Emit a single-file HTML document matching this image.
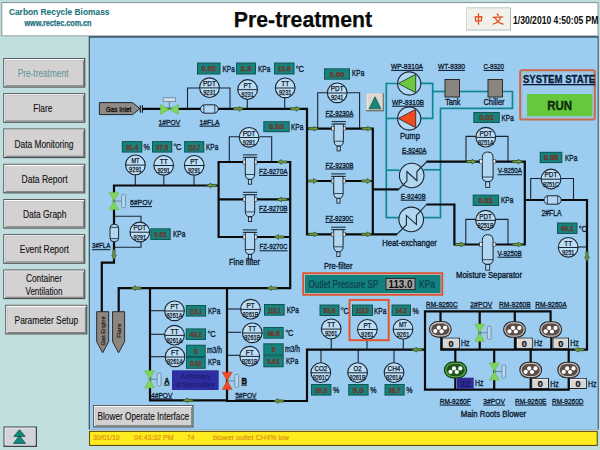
<!DOCTYPE html>
<html><head><meta charset="utf-8"><title>Pre-treatment</title>
<style>html,body{margin:0;padding:0;background:#c0dede;overflow:hidden}svg{display:block}text{font-family:"Liberation Sans",sans-serif}</style>
</head><body>
<svg width="600" height="450" viewBox="0 0 600 450" font-family="Liberation Sans, sans-serif">
<rect x="0" y="0" width="600" height="450" fill="#c0dede"/>
<rect x="1.3" y="2.1" width="597.2" height="34.2" fill="#879595"/>
<rect x="2.3" y="3.1" width="595.2" height="32.3" fill="#ffffff"/>
<text x="8.9" y="14.8" font-size="8.4" fill="#1b777c" font-weight="bold" textLength="100.6" lengthAdjust="spacing" stroke="#1b777c" stroke-width="0.1">Carbon Recycle Biomass</text>
<text x="24.5" y="26.4" font-size="8.8" fill="#1b7080" font-weight="bold" textLength="67" lengthAdjust="spacingAndGlyphs" stroke="#1b7080" stroke-width="0.25">www.rectec.com.cn</text>
<text x="303" y="26.9" font-size="21.6" fill="#0a0a0a" font-weight="bold" text-anchor="middle" textLength="138.4" lengthAdjust="spacingAndGlyphs" stroke="#0a0a0a" stroke-width="0.25">Pre-treatment</text>
<rect x="466" y="7.5" width="45" height="23" fill="#a9b8b2"/>
<rect x="466" y="7.5" width="44" height="22" fill="#cfdad6"/>
<rect x="467" y="8.5" width="43" height="21" fill="#f1f0ea"/>
<g fill="none" stroke="#e2491c" stroke-width="1.3" stroke-linecap="round" stroke-linejoin="round"><path d="M475.2,16.9 L481.8,16.6 L481.2,20.9 L475.8,21.1 Z"/><path d="M478.5,13.9 L478.5,24.2"/><path d="M497.3,14 L498.3,15.4"/><path d="M493,17.3 L502.6,16.9"/><path d="M500.6,17.6 C499.6,20.6 496.6,23 493.2,24"/><path d="M495.4,18.2 C496.8,21 499.6,23.2 502.8,24"/></g>
<text x="513" y="23.6" font-size="10.4" fill="#0a0a0a" font-weight="bold" textLength="85.5" lengthAdjust="spacingAndGlyphs">1/30/2010 4:50:05 PM</text>
<rect x="3.3" y="58.0" width="82" height="29.6" fill="#4a4c4c"/>
<rect x="4.2" y="58.9" width="79.9" height="27.5" fill="#fdfdfd"/>
<rect x="5.5" y="60.2" width="78.6" height="26.200000000000003" fill="#848686"/>
<rect x="5.5" y="60.2" width="77.4" height="25.0" fill="#d3d1d1"/>
<text x="43.0" y="77.0" font-size="11" fill="#6c98a0" text-anchor="middle" textLength="50.6" lengthAdjust="spacingAndGlyphs" stroke="#6c98a0" stroke-width="0.15">Pre-treatment</text>
<rect x="3.3" y="93.2" width="82" height="29.6" fill="#4a4c4c"/>
<rect x="4.2" y="94.10000000000001" width="79.9" height="27.5" fill="#fdfdfd"/>
<rect x="5.5" y="95.4" width="78.6" height="26.200000000000003" fill="#848686"/>
<rect x="5.5" y="95.4" width="77.4" height="25.0" fill="#d3d1d1"/>
<text x="42.8" y="112.2" font-size="11" fill="#151515" text-anchor="middle" textLength="19" lengthAdjust="spacingAndGlyphs" stroke="#151515" stroke-width="0.15">Flare</text>
<rect x="3.3" y="128.5" width="82" height="29.6" fill="#4a4c4c"/>
<rect x="4.2" y="129.4" width="79.9" height="27.5" fill="#fdfdfd"/>
<rect x="5.5" y="130.7" width="78.6" height="26.200000000000003" fill="#848686"/>
<rect x="5.5" y="130.7" width="77.4" height="25.0" fill="#d3d1d1"/>
<text x="44.0" y="147.5" font-size="11" fill="#151515" text-anchor="middle" textLength="59" lengthAdjust="spacingAndGlyphs" stroke="#151515" stroke-width="0.15">Data Monitoring</text>
<rect x="3.3" y="163.8" width="82" height="29.6" fill="#4a4c4c"/>
<rect x="4.2" y="164.70000000000002" width="79.9" height="27.5" fill="#fdfdfd"/>
<rect x="5.5" y="166.0" width="78.6" height="26.200000000000003" fill="#848686"/>
<rect x="5.5" y="166.0" width="77.4" height="25.0" fill="#d3d1d1"/>
<text x="44.5" y="182.8" font-size="11" fill="#151515" text-anchor="middle" textLength="46" lengthAdjust="spacingAndGlyphs" stroke="#151515" stroke-width="0.15">Data Report</text>
<rect x="3.3" y="199.0" width="82" height="29.6" fill="#4a4c4c"/>
<rect x="4.2" y="199.9" width="79.9" height="27.5" fill="#fdfdfd"/>
<rect x="5.5" y="201.2" width="78.6" height="26.200000000000003" fill="#848686"/>
<rect x="5.5" y="201.2" width="77.4" height="25.0" fill="#d3d1d1"/>
<text x="44.699999999999996" y="218.0" font-size="11" fill="#151515" text-anchor="middle" textLength="43.5" lengthAdjust="spacingAndGlyphs" stroke="#151515" stroke-width="0.15">Data Graph</text>
<rect x="3.3" y="234.2" width="82" height="29.6" fill="#4a4c4c"/>
<rect x="4.2" y="235.1" width="79.9" height="27.5" fill="#fdfdfd"/>
<rect x="5.5" y="236.39999999999998" width="78.6" height="26.200000000000003" fill="#848686"/>
<rect x="5.5" y="236.39999999999998" width="77.4" height="25.0" fill="#d3d1d1"/>
<text x="44.3" y="253.2" font-size="11" fill="#151515" text-anchor="middle" textLength="49" lengthAdjust="spacingAndGlyphs" stroke="#151515" stroke-width="0.15">Event Report</text>
<rect x="3.3" y="269.5" width="82" height="29.6" fill="#4a4c4c"/>
<rect x="4.2" y="270.4" width="79.9" height="27.5" fill="#fdfdfd"/>
<rect x="5.5" y="271.7" width="78.6" height="26.200000000000003" fill="#848686"/>
<rect x="5.5" y="271.7" width="77.4" height="25.0" fill="#d3d1d1"/>
<text x="44.0" y="282.1" font-size="11" fill="#151515" text-anchor="middle" textLength="36" lengthAdjust="spacingAndGlyphs" stroke="#151515" stroke-width="0.15">Container</text>
<text x="44.0" y="294.9" font-size="11" fill="#151515" text-anchor="middle" textLength="37" lengthAdjust="spacingAndGlyphs" stroke="#151515" stroke-width="0.15">Ventilation</text>
<rect x="5.3" y="304.8" width="82" height="29.6" fill="#4a4c4c"/>
<rect x="6.2" y="305.7" width="79.9" height="27.5" fill="#fdfdfd"/>
<rect x="7.5" y="307.0" width="78.6" height="26.200000000000003" fill="#848686"/>
<rect x="7.5" y="307.0" width="77.4" height="25.0" fill="#d3d1d1"/>
<text x="46.3" y="323.8" font-size="11" fill="#151515" text-anchor="middle" textLength="63.5" lengthAdjust="spacingAndGlyphs" stroke="#151515" stroke-width="0.15">Parameter Setup</text>
<rect x="3.5" y="426.5" width="33.5" height="20.5" fill="#3c4444"/>
<rect x="4.5" y="427.5" width="31" height="18" fill="#f4f4f8"/>
<rect x="5.5" y="428.5" width="30" height="17" fill="#d2d2da"/>
<path d="M19.5,429.6 L25.2,436.4 L13.8,436.4 Z M19.5,435.6 L25.6,443.4 L13.4,443.4 Z" fill="#128a7c" stroke="#0b4a44" stroke-width="0.7"/>
<rect x="88.7" y="36.2" width="510" height="394.4" fill="#e6f1f4"/>
<rect x="88.7" y="36.2" width="510" height="393.4" fill="#2c4052"/>
<rect x="89.8" y="37.6" width="507.9" height="392.1" fill="#9ccdf0"/>
<rect x="89" y="430.8" width="508.8" height="15.2" fill="#5a4c14"/>
<rect x="90" y="431.9" width="506.7" height="13" fill="#ffec1e"/>
<text x="93" y="439.8" font-size="8" fill="#d98c12" textLength="26.5" lengthAdjust="spacingAndGlyphs" stroke="#d98c12" stroke-width="0.15">30/01/10</text>
<text x="134" y="439.8" font-size="8" fill="#d98c12" textLength="39.5" lengthAdjust="spacingAndGlyphs" stroke="#d98c12" stroke-width="0.15">04:43:32 PM</text>
<text x="187" y="439.8" font-size="8" fill="#d98c12" textLength="7.5" lengthAdjust="spacingAndGlyphs" stroke="#d98c12" stroke-width="0.15">74</text>
<text x="213" y="439.8" font-size="8" fill="#d98c12" textLength="76" lengthAdjust="spacingAndGlyphs" stroke="#d98c12" stroke-width="0.15">blower outlet CH4% low</text>
<polyline points="187.5,109 187.5,88 199.5,88" fill="none" stroke="#1a2430" stroke-width="1.1" stroke-linejoin="miter"/>
<polyline points="219.5,88 230,88 230,109" fill="none" stroke="#1a2430" stroke-width="1.1" stroke-linejoin="miter"/>
<polyline points="247.3,99 247.3,109" fill="none" stroke="#1a2430" stroke-width="1.1" stroke-linejoin="miter"/>
<polyline points="284.7,98 284.7,109" fill="none" stroke="#1a2430" stroke-width="1.1" stroke-linejoin="miter"/>
<polyline points="229.3,162 229.3,136.8 239.5,136.8" fill="none" stroke="#1a2430" stroke-width="1.1" stroke-linejoin="miter"/>
<polyline points="259.5,136.8 271.7,136.8 271.7,162" fill="none" stroke="#1a2430" stroke-width="1.1" stroke-linejoin="miter"/>
<polyline points="135.3,175 135.3,185.5" fill="none" stroke="#1a2430" stroke-width="1.1" stroke-linejoin="miter"/>
<polyline points="163.8,175 163.8,185.5" fill="none" stroke="#1a2430" stroke-width="1.1" stroke-linejoin="miter"/>
<polyline points="194,175 194,185.5" fill="none" stroke="#1a2430" stroke-width="1.1" stroke-linejoin="miter"/>
<polyline points="114,216.3 141,216.3 141,222" fill="none" stroke="#1a2430" stroke-width="1.1" stroke-linejoin="miter"/>
<polyline points="141,242 141,247.3 114,247.3" fill="none" stroke="#1a2430" stroke-width="1.1" stroke-linejoin="miter"/>
<polyline points="317.7,129 317.7,92.7 327.5,92.7" fill="none" stroke="#1a2430" stroke-width="1.1" stroke-linejoin="miter"/>
<polyline points="347,92.7 359.6,92.7 359.6,129" fill="none" stroke="#1a2430" stroke-width="1.1" stroke-linejoin="miter"/>
<polyline points="466,161.3 466,136.4 476,136.4" fill="none" stroke="#1a2430" stroke-width="1.1" stroke-linejoin="miter"/>
<polyline points="496,136.4 508,136.4 508,161.3" fill="none" stroke="#1a2430" stroke-width="1.1" stroke-linejoin="miter"/>
<polyline points="465.8,244.5 465.8,219.4 476,219.4" fill="none" stroke="#1a2430" stroke-width="1.1" stroke-linejoin="miter"/>
<polyline points="495,219.4 508,219.4 508,244.5" fill="none" stroke="#1a2430" stroke-width="1.1" stroke-linejoin="miter"/>
<polyline points="530.7,200 530.7,178.5 541,178.5" fill="none" stroke="#1a2430" stroke-width="1.1" stroke-linejoin="miter"/>
<polyline points="561,178.5 573.5,178.5 573.5,200" fill="none" stroke="#1a2430" stroke-width="1.1" stroke-linejoin="miter"/>
<polyline points="578,247 587,247" fill="none" stroke="#1a2430" stroke-width="1.1" stroke-linejoin="miter"/>
<polyline points="150,310.7 165,310.7" fill="none" stroke="#1a2430" stroke-width="1.1" stroke-linejoin="miter"/>
<polyline points="150,334.3 165,334.3" fill="none" stroke="#1a2430" stroke-width="1.1" stroke-linejoin="miter"/>
<polyline points="150,356.7 165,356.7" fill="none" stroke="#1a2430" stroke-width="1.1" stroke-linejoin="miter"/>
<polyline points="227,309 241,309" fill="none" stroke="#1a2430" stroke-width="1.1" stroke-linejoin="miter"/>
<polyline points="227,332.3 241,332.3" fill="none" stroke="#1a2430" stroke-width="1.1" stroke-linejoin="miter"/>
<polyline points="227,355.3 241,355.3" fill="none" stroke="#1a2430" stroke-width="1.1" stroke-linejoin="miter"/>
<polyline points="331.3,339 331.3,350" fill="none" stroke="#1a2430" stroke-width="1.1" stroke-linejoin="miter"/>
<polyline points="367,339 367,350" fill="none" stroke="#1a2430" stroke-width="1.1" stroke-linejoin="miter"/>
<polyline points="403.3,339 403.3,350" fill="none" stroke="#1a2430" stroke-width="1.1" stroke-linejoin="miter"/>
<polyline points="321,350 321,363" fill="none" stroke="#1a2430" stroke-width="1.1" stroke-linejoin="miter"/>
<polyline points="358.2,350 358.2,363" fill="none" stroke="#1a2430" stroke-width="1.1" stroke-linejoin="miter"/>
<polyline points="394,350 394,363" fill="none" stroke="#1a2430" stroke-width="1.1" stroke-linejoin="miter"/>
<polyline points="397.5,83.5 386.3,83.5 386.3,217.7 399,217.7" fill="none" stroke="#0f8794" stroke-width="1.7" stroke-linejoin="miter"/>
<polyline points="397.5,118.4 386.3,118.4" fill="none" stroke="#0f8794" stroke-width="1.7" stroke-linejoin="miter"/>
<polyline points="421,83.4 432.7,83.4 432.7,118.4 421,118.4" fill="none" stroke="#0f8794" stroke-width="1.7" stroke-linejoin="miter"/>
<polyline points="432.7,91.5 445,91.5" fill="none" stroke="#0f8794" stroke-width="1.7" stroke-linejoin="miter"/>
<polyline points="459.5,91.5 488,91.5" fill="none" stroke="#0f8794" stroke-width="1.7" stroke-linejoin="miter"/>
<polyline points="502.5,91.5 512.5,91.5 512.5,108.3 440.5,108.3 440.5,217.7 423.5,217.7" fill="none" stroke="#0f8794" stroke-width="1.7" stroke-linejoin="miter"/>
<polyline points="386.3,170.2 399.5,170.2" fill="none" stroke="#0f8794" stroke-width="1.7" stroke-linejoin="miter"/>
<polyline points="423.5,169.8 440.5,169.8" fill="none" stroke="#0f8794" stroke-width="1.7" stroke-linejoin="miter"/>
<polyline points="143,108.8 307.0,108.8 307.0,234.3 397,234.3" fill="none" stroke="#0a0a0a" stroke-width="2.2" stroke-linejoin="miter"/>
<polyline points="307.0,128.7 372.8,128.7 372.8,234.3" fill="none" stroke="#0a0a0a" stroke-width="2.2" stroke-linejoin="miter"/>
<line x1="307.0" y1="181" x2="372.8" y2="181" stroke="#0a0a0a" stroke-width="2.2"/>
<line x1="372.8" y1="189.4" x2="398.7" y2="189.4" stroke="#0a0a0a" stroke-width="2.2"/>
<polyline points="426.3,161.7 524.8,161.7 524.8,244.5 454.4,244.5 454.4,204.5 426.3,204.5" fill="none" stroke="#0a0a0a" stroke-width="2.2" stroke-linejoin="miter"/>
<polyline points="524.8,200 587,200 587,349.7 440.3,349.7" fill="none" stroke="#0a0a0a" stroke-width="2.2" stroke-linejoin="miter"/>
<polyline points="114,224 114,185.5 218.5,185.5" fill="none" stroke="#0a0a0a" stroke-width="2.2" stroke-linejoin="miter"/>
<polyline points="290.5,162 218.6,162 218.6,237 290.5,237" fill="none" stroke="#0a0a0a" stroke-width="2.2" stroke-linejoin="miter"/>
<line x1="218.6" y1="199.4" x2="290.5" y2="199.4" stroke="#0a0a0a" stroke-width="2.2"/>
<polyline points="290.2,160.9 290.2,288.1 118.7,288.1 118.7,312" fill="none" stroke="#0a0a0a" stroke-width="2.2" stroke-linejoin="miter"/>
<polyline points="114,241 114,262.6 101.8,262.6 101.8,312" fill="none" stroke="#0a0a0a" stroke-width="2.2" stroke-linejoin="miter"/>
<polyline points="150,288.3 150,400.3 228.1,400.3" fill="none" stroke="#0a0a0a" stroke-width="2.2" stroke-linejoin="miter"/>
<polyline points="227,288.3 227,401 307,401 307,349.7 425,349.7" fill="none" stroke="#0a0a0a" stroke-width="2.2" stroke-linejoin="miter"/>
<polyline points="550.6,322 550.6,311.3 425,311.3 425,389.7 568.7,389.7 568.7,349.7" fill="none" stroke="#0a0a0a" stroke-width="2.2" stroke-linejoin="miter"/>
<line x1="440.5" y1="311.3" x2="440.5" y2="322" stroke="#0a0a0a" stroke-width="2.2"/>
<line x1="441.3" y1="337" x2="441.3" y2="349.7" stroke="#0a0a0a" stroke-width="2.2"/>
<line x1="479.7" y1="311.3" x2="479.7" y2="349.7" stroke="#0a0a0a" stroke-width="2.2"/>
<line x1="514.8" y1="311.3" x2="514.8" y2="322" stroke="#0a0a0a" stroke-width="2.2"/>
<line x1="515" y1="337" x2="515" y2="349.7" stroke="#0a0a0a" stroke-width="2.2"/>
<line x1="551.3" y1="337" x2="551.3" y2="349.7" stroke="#0a0a0a" stroke-width="2.2"/>
<line x1="455.3" y1="349.7" x2="455.3" y2="389.7" stroke="#0a0a0a" stroke-width="2.2"/>
<line x1="494.2" y1="349.7" x2="494.2" y2="389.7" stroke="#0a0a0a" stroke-width="2.2"/>
<line x1="530.7" y1="349.7" x2="530.7" y2="389.7" stroke="#0a0a0a" stroke-width="2.2"/>
<path d="M99.4,102.6 L132.6,102.6 L139.8,108.6 L132.6,114.6 L99.4,114.6 Z" fill="#918b86" stroke="#1c2630" stroke-width="1"/>
<text x="105.8" y="111.5" font-size="8" fill="#111" textLength="25.6" lengthAdjust="spacingAndGlyphs" stroke="#111" stroke-width="0.32">Gas Inlet</text>
<rect x="139.7" y="105.3" width="1.1" height="7.4" fill="#111"/><rect x="141.9" y="105.3" width="1.1" height="7.4" fill="#111"/>
<path d="M160.4,104.4 L169.4,109.4 L160.4,114.4 Z M178.4,104.4 L169.4,109.4 L178.4,114.4 Z" fill="#80d45e" stroke="#68bc4c" stroke-width="0.6"/>
<line x1="169.4" y1="109.4" x2="169.4" y2="101.4" stroke="#6f8aa0" stroke-width="1.1"/>
<rect x="163.20000000000002" y="97.80000000000001" width="12.4" height="3.6" fill="#cfe2f0" stroke="#6f8aa0" stroke-width="0.9"/>
<rect x="200.5" y="104.8" width="17.69999999999999" height="8.4" rx="4.2" ry="4.2" fill="#b2d7f3" stroke="#1a2430" stroke-width="1"/>
<line x1="203.9" y1="104.8" x2="203.9" y2="113.2" stroke="#1a2430" stroke-width="0.8"/>
<line x1="214.79999999999998" y1="104.8" x2="214.79999999999998" y2="113.2" stroke="#1a2430" stroke-width="0.8"/>
<text x="158.6" y="124.8" font-size="8" fill="#0b172c" textLength="21.6" lengthAdjust="spacingAndGlyphs" stroke="#0b172c" stroke-width="0.32">1#POV</text>
<rect x="158.6" y="125.7" width="21.6" height="1" fill="#0b172c"/>
<text x="199.5" y="124.8" font-size="8" fill="#0b172c" textLength="20" lengthAdjust="spacingAndGlyphs" stroke="#0b172c" stroke-width="0.32">1#FLA</text>
<rect x="199.5" y="125.7" width="20" height="1" fill="#0b172c"/>
<rect x="242.8" y="154.4" width="14.4" height="1" fill="#1a2430"/>
<rect x="242.8" y="156.9" width="14.4" height="1" fill="#1a2430"/>
<path d="M245.3,157.4 L254.7,157.4 L254.7,174 Q254.7,179.4 250,179.4 Q245.3,179.4 245.3,174 Z" fill="#b2d7f3" stroke="#1a2430" stroke-width="1"/>
<line x1="245.3" y1="174.5" x2="254.7" y2="174.5" stroke="#1a2430" stroke-width="0.8"/>
<rect x="243" y="160" width="2.3" height="4" fill="#dfe6ea" stroke="#1a2430" stroke-width="0.5"/>
<rect x="254.7" y="160" width="2.3" height="4" fill="#dfe6ea" stroke="#1a2430" stroke-width="0.5"/>
<rect x="248.4" y="179.6" width="3.2" height="4.6" fill="#b2d7f3" stroke="#1a2430" stroke-width="0.9"/>
<rect x="242.8" y="191.8" width="14.4" height="1" fill="#1a2430"/>
<rect x="242.8" y="194.3" width="14.4" height="1" fill="#1a2430"/>
<path d="M245.3,194.8 L254.7,194.8 L254.7,211.4 Q254.7,216.8 250,216.8 Q245.3,216.8 245.3,211.4 Z" fill="#b2d7f3" stroke="#1a2430" stroke-width="1"/>
<line x1="245.3" y1="211.9" x2="254.7" y2="211.9" stroke="#1a2430" stroke-width="0.8"/>
<rect x="243" y="197.4" width="2.3" height="4" fill="#dfe6ea" stroke="#1a2430" stroke-width="0.5"/>
<rect x="254.7" y="197.4" width="2.3" height="4" fill="#dfe6ea" stroke="#1a2430" stroke-width="0.5"/>
<rect x="248.4" y="217.0" width="3.2" height="4.6" fill="#b2d7f3" stroke="#1a2430" stroke-width="0.9"/>
<rect x="242.8" y="229.4" width="14.4" height="1" fill="#1a2430"/>
<rect x="242.8" y="231.9" width="14.4" height="1" fill="#1a2430"/>
<path d="M245.3,232.4 L254.7,232.4 L254.7,249 Q254.7,254.4 250,254.4 Q245.3,254.4 245.3,249 Z" fill="#b2d7f3" stroke="#1a2430" stroke-width="1"/>
<line x1="245.3" y1="249.5" x2="254.7" y2="249.5" stroke="#1a2430" stroke-width="0.8"/>
<rect x="243" y="235" width="2.3" height="4" fill="#dfe6ea" stroke="#1a2430" stroke-width="0.5"/>
<rect x="254.7" y="235" width="2.3" height="4" fill="#dfe6ea" stroke="#1a2430" stroke-width="0.5"/>
<rect x="248.4" y="254.6" width="3.2" height="4.6" fill="#b2d7f3" stroke="#1a2430" stroke-width="0.9"/>
<rect x="331.5" y="121.1" width="14.4" height="1" fill="#1a2430"/>
<rect x="331.5" y="123.6" width="14.4" height="1" fill="#1a2430"/>
<path d="M334.0,124.1 L343.4,124.1 L343.4,140.7 Q343.4,146.1 338.7,146.1 Q334.0,146.1 334.0,140.7 Z" fill="#b2d7f3" stroke="#1a2430" stroke-width="1"/>
<line x1="334.0" y1="141.2" x2="343.4" y2="141.2" stroke="#1a2430" stroke-width="0.8"/>
<rect x="331.7" y="126.69999999999999" width="2.3" height="4" fill="#dfe6ea" stroke="#1a2430" stroke-width="0.5"/>
<rect x="343.4" y="126.69999999999999" width="2.3" height="4" fill="#dfe6ea" stroke="#1a2430" stroke-width="0.5"/>
<rect x="337.09999999999997" y="146.29999999999998" width="3.2" height="4.6" fill="#b2d7f3" stroke="#1a2430" stroke-width="0.9"/>
<rect x="331.2" y="173.4" width="14.4" height="1" fill="#1a2430"/>
<rect x="331.2" y="175.9" width="14.4" height="1" fill="#1a2430"/>
<path d="M333.7,176.4 L343.09999999999997,176.4 L343.09999999999997,193 Q343.09999999999997,198.4 338.4,198.4 Q333.7,198.4 333.7,193 Z" fill="#b2d7f3" stroke="#1a2430" stroke-width="1"/>
<line x1="333.7" y1="193.5" x2="343.09999999999997" y2="193.5" stroke="#1a2430" stroke-width="0.8"/>
<rect x="331.4" y="179" width="2.3" height="4" fill="#dfe6ea" stroke="#1a2430" stroke-width="0.5"/>
<rect x="343.09999999999997" y="179" width="2.3" height="4" fill="#dfe6ea" stroke="#1a2430" stroke-width="0.5"/>
<rect x="336.79999999999995" y="198.6" width="3.2" height="4.6" fill="#b2d7f3" stroke="#1a2430" stroke-width="0.9"/>
<rect x="331.2" y="226.70000000000002" width="14.4" height="1" fill="#1a2430"/>
<rect x="331.2" y="229.20000000000002" width="14.4" height="1" fill="#1a2430"/>
<path d="M333.7,229.70000000000002 L343.09999999999997,229.70000000000002 L343.09999999999997,246.3 Q343.09999999999997,251.70000000000002 338.4,251.70000000000002 Q333.7,251.70000000000002 333.7,246.3 Z" fill="#b2d7f3" stroke="#1a2430" stroke-width="1"/>
<line x1="333.7" y1="246.8" x2="343.09999999999997" y2="246.8" stroke="#1a2430" stroke-width="0.8"/>
<rect x="331.4" y="232.3" width="2.3" height="4" fill="#dfe6ea" stroke="#1a2430" stroke-width="0.5"/>
<rect x="343.09999999999997" y="232.3" width="2.3" height="4" fill="#dfe6ea" stroke="#1a2430" stroke-width="0.5"/>
<rect x="336.79999999999995" y="251.9" width="3.2" height="4.6" fill="#b2d7f3" stroke="#1a2430" stroke-width="0.9"/>
<path d="M482.3,157.6 Q482.3,152.0 487.7,152.0 Q493.09999999999997,152.0 493.09999999999997,157.6 L493.09999999999997,176.79999999999998 Q493.09999999999997,181.6 487.7,181.6 Q482.3,181.6 482.3,176.79999999999998 Z" fill="#b2d7f3" stroke="#1a2430" stroke-width="1"/>
<line x1="482.3" y1="177.0" x2="493.09999999999997" y2="177.0" stroke="#1a2430" stroke-width="0.8"/>
<rect x="479.7" y="159.6" width="2.6" height="4" fill="#e4eaee" stroke="#1a2430" stroke-width="0.5"/>
<rect x="493.09999999999997" y="159.6" width="2.6" height="4" fill="#e4eaee" stroke="#1a2430" stroke-width="0.5"/>
<rect x="485.7" y="181.79999999999998" width="4" height="5.6" fill="#b2d7f3" stroke="#1a2430" stroke-width="0.9"/>
<path d="M482.3,240.3 Q482.3,234.70000000000002 487.7,234.70000000000002 Q493.09999999999997,234.70000000000002 493.09999999999997,240.3 L493.09999999999997,259.5 Q493.09999999999997,264.3 487.7,264.3 Q482.3,264.3 482.3,259.5 Z" fill="#b2d7f3" stroke="#1a2430" stroke-width="1"/>
<line x1="482.3" y1="259.7" x2="493.09999999999997" y2="259.7" stroke="#1a2430" stroke-width="0.8"/>
<rect x="479.7" y="242.3" width="2.6" height="4" fill="#e4eaee" stroke="#1a2430" stroke-width="0.5"/>
<rect x="493.09999999999997" y="242.3" width="2.6" height="4" fill="#e4eaee" stroke="#1a2430" stroke-width="0.5"/>
<rect x="485.7" y="264.5" width="4" height="5.6" fill="#b2d7f3" stroke="#1a2430" stroke-width="0.9"/>
<rect x="544" y="195.8" width="17.200000000000045" height="8.4" rx="4.2" ry="4.2" fill="#b2d7f3" stroke="#1a2430" stroke-width="1"/>
<line x1="547.4" y1="195.8" x2="547.4" y2="204.2" stroke="#1a2430" stroke-width="0.8"/>
<line x1="557.8000000000001" y1="195.8" x2="557.8000000000001" y2="204.2" stroke="#1a2430" stroke-width="0.8"/>
<rect x="110" y="224.3" width="8.6" height="17.4" rx="4" ry="3.6" fill="#b2d7f3" stroke="#1a2430" stroke-width="1"/>
<line x1="110" y1="227.4" x2="118.6" y2="227.4" stroke="#1a2430" stroke-width="0.8"/><line x1="110" y1="238.6" x2="118.6" y2="238.6" stroke="#1a2430" stroke-width="0.8"/>
<path d="M109.0,192.4 L119.0,192.4 L114,201 Z M109.0,209.6 L119.0,209.6 L114,201 Z" fill="#80d45e" stroke="#68bc4c" stroke-width="0.6"/>
<line x1="114" y1="201" x2="121.5" y2="201" stroke="#6f8aa0" stroke-width="1.1"/>
<rect x="121.6" y="194.6" width="3.8" height="13" rx="1" ry="1" fill="#b6d8f2" stroke="#6f8aa0" stroke-width="0.9"/>
<path d="M96.7,311.7 L108.7,311.7 L108.7,341.5 L102.7,352.8 L96.7,341.5 Z" fill="#8e8781" stroke="#2a2a2a" stroke-width="1"/>
<text transform="translate(105.0,345.5) rotate(-90)" font-size="6.2" fill="#1a1a1a" stroke="#1a1a1a" stroke-width="0.2" textLength="29" lengthAdjust="spacingAndGlyphs">Gas Engine</text>
<path d="M112.6,311.7 L124.6,311.7 L124.6,341.5 L118.6,352.8 L112.6,341.5 Z" fill="#8e8781" stroke="#2a2a2a" stroke-width="1"/>
<text transform="translate(120.89999999999999,338) rotate(-90)" font-size="6.2" fill="#1a1a1a" stroke="#1a1a1a" stroke-width="0.2" textLength="14.5" lengthAdjust="spacingAndGlyphs">Flare</text>
<circle cx="409.2" cy="83.5" r="11.6" fill="#b2d7f3" stroke="#1a2430" stroke-width="1.1"/>
<path d="M415.7,74.3 L398.3,83.5 L415.7,92.7 Z" fill="#6cc83e" stroke="#1a2430" stroke-width="0.8"/>
<circle cx="409.2" cy="118.5" r="11.6" fill="#b2d7f3" stroke="#1a2430" stroke-width="1.1"/>
<path d="M415.7,109.3 L398.3,118.5 L415.7,127.7 Z" fill="#f04a1e" stroke="#1a2430" stroke-width="0.8"/>
<rect x="445" y="79.5" width="14.5" height="17.5" fill="#8a8480" stroke="#2a2a2a" stroke-width="1"/>
<rect x="488" y="79.5" width="14.5" height="17.5" fill="#8a8480" stroke="#2a2a2a" stroke-width="1"/>
<circle cx="411.7" cy="175.5" r="12.3" fill="#b2d7f3" stroke="#1a2430" stroke-width="1.1"/>
<polyline points="398.5,189.5 406.9,181.1 406.9,171.5 416.9,180.7 416.9,171.5 426.4,162.1" fill="none" stroke="#1a2430" stroke-width="1.1"/>
<circle cx="411.2" cy="219.4" r="12.3" fill="#b2d7f3" stroke="#1a2430" stroke-width="1.1"/>
<polyline points="396.8,234.3 406.4,225.0 406.4,215.4 416.4,224.6 416.4,215.4 426.5,204.5" fill="none" stroke="#1a2430" stroke-width="1.1"/>
<rect x="366.3" y="93.3" width="17.4" height="18" fill="#5c5650"/><rect x="366.3" y="93.3" width="16.2" height="16.8" fill="#f6f0ea"/><rect x="367.5" y="94.5" width="15" height="15.6" fill="#dcd5cd"/>
<path d="M375,96.8 L380.9,108.8 L369.1,108.8 Z" fill="#12887a" stroke="#0c4c48" stroke-width="0.7"/>
<rect x="520.2" y="70.2" width="74.6" height="49.4" rx="1.5" ry="1.5" fill="none" stroke="#cc6846" stroke-width="2"/>
<rect x="522" y="72" width="71" height="45.8" fill="none" stroke="#a4b4bc" stroke-width="0.9"/>
<text x="559.1" y="82.8" font-size="11" fill="#0b1738" font-weight="bold" text-anchor="middle" textLength="72.3" lengthAdjust="spacingAndGlyphs" stroke="#0b1738" stroke-width="0.3">SYSTEM STATE</text>
<rect x="523" y="84" width="72.3" height="1.3" fill="#0b1738"/>
<rect x="527" y="94" width="65.3" height="22.2" fill="#66c83c"/>
<text x="559.7" y="110.3" font-size="13.5" fill="#0e2c0c" font-weight="bold" text-anchor="middle" textLength="24.8" lengthAdjust="spacingAndGlyphs" stroke="#0e2c0c" stroke-width="0.4">RUN</text>
<path d="M144.6,370.7 L154.6,370.7 L149.6,379.3 Z M144.6,387.90000000000003 L154.6,387.90000000000003 L149.6,379.3 Z" fill="#80d45e" stroke="#68bc4c" stroke-width="0.6"/>
<line x1="149.6" y1="379.3" x2="157.1" y2="379.3" stroke="#6f8aa0" stroke-width="1.1"/>
<rect x="157.2" y="372.90000000000003" width="3.8" height="13" rx="1" ry="1" fill="#b6d8f2" stroke="#6f8aa0" stroke-width="0.9"/>
<path d="M222.2,372.2 L232.2,372.2 L227.2,380.8 Z M222.2,389.40000000000003 L232.2,389.40000000000003 L227.2,380.8 Z" fill="#f04a26" stroke="#d03c1c" stroke-width="0.6"/>
<line x1="227.2" y1="380.8" x2="234.7" y2="380.8" stroke="#6f8aa0" stroke-width="1.1"/>
<rect x="234.79999999999998" y="374.40000000000003" width="3.8" height="13" rx="1" ry="1" fill="#b6d8f2" stroke="#6f8aa0" stroke-width="0.9"/>
<path d="M474.7,324.09999999999997 L484.7,324.09999999999997 L479.7,332.7 Z M474.7,341.3 L484.7,341.3 L479.7,332.7 Z" fill="#80d45e" stroke="#68bc4c" stroke-width="0.6"/>
<line x1="479.7" y1="332.7" x2="487.2" y2="332.7" stroke="#6f8aa0" stroke-width="1.1"/>
<rect x="487.3" y="326.3" width="3.8" height="13" rx="1" ry="1" fill="#b6d8f2" stroke="#6f8aa0" stroke-width="0.9"/>
<path d="M489.3,362.9 L499.3,362.9 L494.3,371.5 Z M489.3,380.1 L499.3,380.1 L494.3,371.5 Z" fill="#80d45e" stroke="#68bc4c" stroke-width="0.6"/>
<line x1="494.3" y1="371.5" x2="501.8" y2="371.5" stroke="#6f8aa0" stroke-width="1.1"/>
<rect x="501.90000000000003" y="365.1" width="3.8" height="13" rx="1" ry="1" fill="#b6d8f2" stroke="#6f8aa0" stroke-width="0.9"/>
<text x="164.2" y="383.7" font-size="8.6" fill="#0a0a0a" font-weight="bold" textLength="5.3" lengthAdjust="spacingAndGlyphs" stroke="#0a0a0a" stroke-width="0.35">A</text>
<rect x="164.2" y="384.59999999999997" width="5.3" height="1" fill="#0a0a0a"/>
<text x="241.4" y="383.7" font-size="8.6" fill="#0a0a0a" font-weight="bold" textLength="5.6" lengthAdjust="spacingAndGlyphs" stroke="#0a0a0a" stroke-width="0.35">B</text>
<rect x="241.4" y="384.59999999999997" width="5.6" height="1" fill="#0a0a0a"/>
<rect x="172" y="370.3" width="46.7" height="19.7" fill="#2e2ea0"/>
<text x="195.5" y="379" font-size="7.5" fill="#1c1c70" text-anchor="middle" textLength="30" lengthAdjust="spacingAndGlyphs" stroke="#1c1c70" stroke-width="0.2">A:Primary</text>
<text x="195.5" y="387" font-size="7.5" fill="#1c1c70" text-anchor="middle" textLength="38" lengthAdjust="spacingAndGlyphs" stroke="#1c1c70" stroke-width="0.2">B:Secondary</text>
<text x="151" y="397.5" font-size="8" fill="#0b172c" textLength="21.5" lengthAdjust="spacingAndGlyphs" stroke="#0b172c" stroke-width="0.32">4#POV</text>
<rect x="151" y="398.4" width="21.5" height="1" fill="#0b172c"/>
<text x="235.2" y="397.8" font-size="8" fill="#0b172c" textLength="21.3" lengthAdjust="spacingAndGlyphs" stroke="#0b172c" stroke-width="0.32">5#POV</text>
<rect x="235.2" y="398.7" width="21.3" height="1" fill="#0b172c"/>
<rect x="429.40000000000003" y="321.5" width="21.8" height="15.6" rx="8.6" ry="7.8" fill="#bfc2c6" stroke="#2c2624" stroke-width="1.1"/>
<rect x="431.3" y="323.40000000000003" width="18" height="11.8" rx="6.4" ry="5.9" fill="#5c4c46"/>
<circle cx="435.3" cy="331.1" r="2.1" fill="#ffffff"/>
<circle cx="438.8" cy="327.7" r="2.1" fill="#ffffff"/>
<circle cx="441.6" cy="331.3" r="2.1" fill="#ffffff"/>
<circle cx="445.1" cy="327.7" r="2.1" fill="#ffffff"/>
<rect x="503.6" y="321.7" width="21.8" height="15.6" rx="8.6" ry="7.8" fill="#bfc2c6" stroke="#2c2624" stroke-width="1.1"/>
<rect x="505.5" y="323.6" width="18" height="11.8" rx="6.4" ry="5.9" fill="#5c4c46"/>
<circle cx="509.5" cy="331.3" r="2.1" fill="#ffffff"/>
<circle cx="513.0" cy="327.9" r="2.1" fill="#ffffff"/>
<circle cx="515.8" cy="331.5" r="2.1" fill="#ffffff"/>
<circle cx="519.3" cy="327.9" r="2.1" fill="#ffffff"/>
<rect x="539.8000000000001" y="321.7" width="21.8" height="15.6" rx="8.6" ry="7.8" fill="#bfc2c6" stroke="#2c2624" stroke-width="1.1"/>
<rect x="541.7" y="323.6" width="18" height="11.8" rx="6.4" ry="5.9" fill="#5c4c46"/>
<circle cx="545.7" cy="331.3" r="2.1" fill="#ffffff"/>
<circle cx="549.2" cy="327.9" r="2.1" fill="#ffffff"/>
<circle cx="552.0" cy="331.5" r="2.1" fill="#ffffff"/>
<circle cx="555.5" cy="327.9" r="2.1" fill="#ffffff"/>
<rect x="444.4" y="362.1" width="22.2" height="15.8" rx="8.6" ry="7.9" fill="#58a444" stroke="#123a13" stroke-width="1.2"/>
<rect x="446.5" y="364.1" width="18" height="11.8" rx="6.4" ry="5.9" fill="#1d561d"/>
<circle cx="450.5" cy="371.8" r="2.1" fill="#ffffff"/>
<circle cx="454.0" cy="368.4" r="2.1" fill="#ffffff"/>
<circle cx="456.8" cy="372.0" r="2.1" fill="#ffffff"/>
<circle cx="460.3" cy="368.4" r="2.1" fill="#ffffff"/>
<rect x="519.8000000000001" y="362.2" width="21.8" height="15.6" rx="8.6" ry="7.8" fill="#bfc2c6" stroke="#2c2624" stroke-width="1.1"/>
<rect x="521.7" y="364.1" width="18" height="11.8" rx="6.4" ry="5.9" fill="#5c4c46"/>
<circle cx="525.7" cy="371.8" r="2.1" fill="#ffffff"/>
<circle cx="529.2" cy="368.4" r="2.1" fill="#ffffff"/>
<circle cx="532.0" cy="372.0" r="2.1" fill="#ffffff"/>
<circle cx="535.5" cy="368.4" r="2.1" fill="#ffffff"/>
<rect x="557.8000000000001" y="362.2" width="21.8" height="15.6" rx="8.6" ry="7.8" fill="#bfc2c6" stroke="#2c2624" stroke-width="1.1"/>
<rect x="559.7" y="364.1" width="18" height="11.8" rx="6.4" ry="5.9" fill="#5c4c46"/>
<circle cx="563.7" cy="371.8" r="2.1" fill="#ffffff"/>
<circle cx="567.2" cy="368.4" r="2.1" fill="#ffffff"/>
<circle cx="570.0" cy="372.0" r="2.1" fill="#ffffff"/>
<circle cx="573.5" cy="368.4" r="2.1" fill="#ffffff"/>
<rect x="442.3" y="337.7" width="17.5" height="11" fill="#222"/>
<rect x="443.1" y="338.5" width="15.7" height="9.2" fill="#f4f4f4"/>
<rect x="443.90000000000003" y="339.3" width="14.9" height="8.4" fill="#d6d6d6"/>
<text x="451.05" y="346.5" font-size="9.2" fill="#0a0a0a" font-weight="bold" text-anchor="middle" stroke="#0a0a0a" stroke-width="0.2">0</text>
<text x="461.1" y="346.3" font-size="8.5" fill="#0b172c" textLength="8.5" lengthAdjust="spacingAndGlyphs" stroke="#0b172c" stroke-width="0.32">Hz</text>
<rect x="516" y="337.7" width="16.7" height="11" fill="#222"/>
<rect x="516.8" y="338.5" width="14.899999999999999" height="9.2" fill="#f4f4f4"/>
<rect x="517.6" y="339.3" width="14.1" height="8.4" fill="#d6d6d6"/>
<text x="524.35" y="346.5" font-size="9.2" fill="#0a0a0a" font-weight="bold" text-anchor="middle" stroke="#0a0a0a" stroke-width="0.2">0</text>
<text x="534.0" y="346.3" font-size="8.5" fill="#0b172c" textLength="8.5" lengthAdjust="spacingAndGlyphs" stroke="#0b172c" stroke-width="0.32">Hz</text>
<rect x="552.7" y="337.7" width="16.3" height="11" fill="#222"/>
<rect x="553.5" y="338.5" width="14.5" height="9.2" fill="#f4f4f4"/>
<rect x="554.3000000000001" y="339.3" width="13.700000000000001" height="8.4" fill="#d6d6d6"/>
<text x="560.85" y="346.5" font-size="9.2" fill="#0a0a0a" font-weight="bold" text-anchor="middle" stroke="#0a0a0a" stroke-width="0.2">0</text>
<text x="570.3" y="346.3" font-size="8.5" fill="#0b172c" textLength="8.5" lengthAdjust="spacingAndGlyphs" stroke="#0b172c" stroke-width="0.32">Hz</text>
<rect x="457" y="377.7" width="16.7" height="11" fill="#2e2a92"/>
<text x="465.35" y="386.5" font-size="9.5" fill="#1a1866" font-weight="bold" text-anchor="middle" textLength="9.5" lengthAdjust="spacingAndGlyphs">22</text>
<text x="475.0" y="386.3" font-size="8.5" fill="#0b172c" textLength="8.5" lengthAdjust="spacingAndGlyphs" stroke="#0b172c" stroke-width="0.32">Hz</text>
<rect x="531.5" y="378" width="17.5" height="11" fill="#222"/>
<rect x="532.3" y="378.8" width="15.7" height="9.2" fill="#f4f4f4"/>
<rect x="533.1" y="379.6" width="14.9" height="8.4" fill="#d6d6d6"/>
<text x="540.25" y="386.8" font-size="9.2" fill="#0a0a0a" font-weight="bold" text-anchor="middle" stroke="#0a0a0a" stroke-width="0.2">0</text>
<text x="550.3" y="386.6" font-size="8.5" fill="#0b172c" textLength="8.5" lengthAdjust="spacingAndGlyphs" stroke="#0b172c" stroke-width="0.32">Hz</text>
<rect x="569.3" y="378" width="17.5" height="11" fill="#222"/>
<rect x="570.0999999999999" y="378.8" width="15.7" height="9.2" fill="#f4f4f4"/>
<rect x="570.9" y="379.6" width="14.9" height="8.4" fill="#d6d6d6"/>
<text x="578.05" y="386.8" font-size="9.2" fill="#0a0a0a" font-weight="bold" text-anchor="middle" stroke="#0a0a0a" stroke-width="0.2">0</text>
<text x="588.0999999999999" y="386.6" font-size="8.5" fill="#0b172c" textLength="8.5" lengthAdjust="spacingAndGlyphs" stroke="#0b172c" stroke-width="0.32">Hz</text>
<path d="M233.5,107.7 L239.0,107.7 L239.0,106.39999999999999 L243.5,108.8 L239.0,111.2 L239.0,109.89999999999999 L233.5,109.89999999999999 Z" fill="#6c9c40" stroke="#2c441e" stroke-width="0.6"/>
<path d="M290.5,107.7 L296.0,107.7 L296.0,106.39999999999999 L300.5,108.8 L296.0,111.2 L296.0,109.89999999999999 L290.5,109.89999999999999 Z" fill="#6c9c40" stroke="#2c441e" stroke-width="0.6"/>
<path d="M216.5,184.4 L211.0,184.4 L211.0,183.1 L206.5,185.5 L211.0,187.9 L211.0,186.6 L216.5,186.6 Z" fill="#6c9c40" stroke="#2c441e" stroke-width="0.6"/>
<path d="M287,160.9 L281.5,160.9 L281.5,159.6 L277,162 L281.5,164.4 L281.5,163.1 L287,163.1 Z" fill="#6c9c40" stroke="#2c441e" stroke-width="0.6"/>
<path d="M287,198.3 L281.5,198.3 L281.5,197.0 L277,199.4 L281.5,201.8 L281.5,200.5 L287,200.5 Z" fill="#6c9c40" stroke="#2c441e" stroke-width="0.6"/>
<path d="M284,235.9 L278.5,235.9 L278.5,234.6 L274,237 L278.5,239.4 L278.5,238.1 L284,238.1 Z" fill="#6c9c40" stroke="#2c441e" stroke-width="0.6"/>
<path d="M277,287.0 L271.5,287.0 L271.5,285.70000000000005 L267,288.1 L271.5,290.5 L271.5,289.20000000000005 L277,289.20000000000005 Z" fill="#6c9c40" stroke="#2c441e" stroke-width="0.6"/>
<path d="M141,287.0 L135.5,287.0 L135.5,285.70000000000005 L131,288.1 L135.5,290.5 L135.5,289.20000000000005 L141,289.20000000000005 Z" fill="#6c9c40" stroke="#2c441e" stroke-width="0.6"/>
<path d="M112.9,249.7 L112.9,255.2 L111.6,255.2 L114,259.7 L116.4,255.2 L115.1,255.2 L115.1,249.7 Z" fill="#6c9c40" stroke="#2c441e" stroke-width="0.6"/>
<path d="M308.5,127.6 L314.0,127.6 L314.0,126.29999999999998 L318.5,128.7 L314.0,131.1 L314.0,129.79999999999998 L308.5,129.79999999999998 Z" fill="#6c9c40" stroke="#2c441e" stroke-width="0.6"/>
<path d="M362,127.6 L367.5,127.6 L367.5,126.29999999999998 L372,128.7 L367.5,131.1 L367.5,129.79999999999998 L362,129.79999999999998 Z" fill="#6c9c40" stroke="#2c441e" stroke-width="0.6"/>
<path d="M308,179.9 L313.5,179.9 L313.5,178.6 L318,181 L313.5,183.4 L313.5,182.1 L308,182.1 Z" fill="#6c9c40" stroke="#2c441e" stroke-width="0.6"/>
<path d="M361.5,179.9 L367.0,179.9 L367.0,178.6 L371.5,181 L367.0,183.4 L367.0,182.1 L361.5,182.1 Z" fill="#6c9c40" stroke="#2c441e" stroke-width="0.6"/>
<path d="M308.5,233.20000000000002 L314.0,233.20000000000002 L314.0,231.9 L318.5,234.3 L314.0,236.70000000000002 L314.0,235.4 L308.5,235.4 Z" fill="#6c9c40" stroke="#2c441e" stroke-width="0.6"/>
<path d="M361.7,233.20000000000002 L367.2,233.20000000000002 L367.2,231.9 L371.7,234.3 L367.2,236.70000000000002 L367.2,235.4 L361.7,235.4 Z" fill="#6c9c40" stroke="#2c441e" stroke-width="0.6"/>
<path d="M466.5,160.5 L472.0,160.5 L472.0,159.2 L476.5,161.6 L472.0,164.0 L472.0,162.7 L466.5,162.7 Z" fill="#6c9c40" stroke="#2c441e" stroke-width="0.6"/>
<path d="M512.5,160.5 L518.0,160.5 L518.0,159.2 L522.5,161.6 L518.0,164.0 L518.0,162.7 L512.5,162.7 Z" fill="#6c9c40" stroke="#2c441e" stroke-width="0.6"/>
<path d="M455.3,243.4 L460.8,243.4 L460.8,242.1 L465.3,244.5 L460.8,246.9 L460.8,245.6 L455.3,245.6 Z" fill="#6c9c40" stroke="#2c441e" stroke-width="0.6"/>
<path d="M512.5,243.4 L518.0,243.4 L518.0,242.1 L522.5,244.5 L518.0,246.9 L518.0,245.6 L512.5,245.6 Z" fill="#6c9c40" stroke="#2c441e" stroke-width="0.6"/>
<path d="M585.9,251.5 L585.9,257.0 L584.6,257.0 L587,261.5 L589.4,257.0 L588.1,257.0 L588.1,251.5 Z" fill="#6c9c40" stroke="#2c441e" stroke-width="0.6"/>
<path d="M584,348.59999999999997 L578.5,348.59999999999997 L578.5,347.3 L574,349.7 L578.5,352.09999999999997 L578.5,350.8 L584,350.8 Z" fill="#6c9c40" stroke="#2c441e" stroke-width="0.6"/>
<path d="M422,348.59999999999997 L416.5,348.59999999999997 L416.5,347.3 L412,349.7 L416.5,352.09999999999997 L416.5,350.8 L422,350.8 Z" fill="#6c9c40" stroke="#2c441e" stroke-width="0.6"/>
<path d="M193,399.2 L187.5,399.2 L187.5,397.90000000000003 L183,400.3 L187.5,402.7 L187.5,401.40000000000003 L193,401.40000000000003 Z" fill="#6c9c40" stroke="#2c441e" stroke-width="0.6"/>
<path d="M283.7,399.9 L278.2,399.9 L278.2,398.6 L273.7,401 L278.2,403.4 L278.2,402.1 L283.7,402.1 Z" fill="#6c9c40" stroke="#2c441e" stroke-width="0.6"/>
<circle cx="209.5" cy="87.7" r="9.85" fill="#bcdef5" stroke="#1a2430" stroke-width="1.1"/>
<line x1="199.65" y1="87.9" x2="219.35" y2="87.9" stroke="#1a2430" stroke-width="1"/>
<text x="209.5" y="86.0" font-size="7.8" fill="#0a0f18" text-anchor="middle" textLength="12.8" lengthAdjust="spacingAndGlyphs" stroke="#0a0f18" stroke-width="0.25">PDT</text>
<text x="209.5" y="95.2" font-size="7.8" fill="#0a0f18" text-anchor="middle" textLength="12.6" lengthAdjust="spacingAndGlyphs" stroke="#0a0f18" stroke-width="0.25">9231</text>
<circle cx="247.6" cy="89.5" r="9.85" fill="#bcdef5" stroke="#1a2430" stroke-width="1.1"/>
<line x1="237.75" y1="89.7" x2="257.45" y2="89.7" stroke="#1a2430" stroke-width="1"/>
<text x="247.6" y="87.8" font-size="7.8" fill="#0a0f18" text-anchor="middle" textLength="8" lengthAdjust="spacingAndGlyphs" stroke="#0a0f18" stroke-width="0.25">PT</text>
<text x="247.6" y="97.0" font-size="7.8" fill="#0a0f18" text-anchor="middle" textLength="12.6" lengthAdjust="spacingAndGlyphs" stroke="#0a0f18" stroke-width="0.25">9231</text>
<circle cx="285.2" cy="87.8" r="9.85" fill="#bcdef5" stroke="#1a2430" stroke-width="1.1"/>
<line x1="275.34999999999997" y1="88.0" x2="295.05" y2="88.0" stroke="#1a2430" stroke-width="1"/>
<text x="285.2" y="86.1" font-size="7.8" fill="#0a0f18" text-anchor="middle" textLength="8" lengthAdjust="spacingAndGlyphs" stroke="#0a0f18" stroke-width="0.25">TT</text>
<text x="285.2" y="95.3" font-size="7.8" fill="#0a0f18" text-anchor="middle" textLength="12.6" lengthAdjust="spacingAndGlyphs" stroke="#0a0f18" stroke-width="0.25">9231</text>
<circle cx="135.4" cy="164.9" r="9.85" fill="#bcdef5" stroke="#1a2430" stroke-width="1.1"/>
<line x1="125.55000000000001" y1="165.1" x2="145.25" y2="165.1" stroke="#1a2430" stroke-width="1"/>
<text x="135.4" y="163.20000000000002" font-size="7.8" fill="#0a0f18" text-anchor="middle" textLength="8" lengthAdjust="spacingAndGlyphs" stroke="#0a0f18" stroke-width="0.25">MT</text>
<text x="135.4" y="172.4" font-size="7.8" fill="#0a0f18" text-anchor="middle" textLength="12.6" lengthAdjust="spacingAndGlyphs" stroke="#0a0f18" stroke-width="0.25">9291</text>
<circle cx="163.7" cy="165.3" r="9.85" fill="#bcdef5" stroke="#1a2430" stroke-width="1.1"/>
<line x1="153.85" y1="165.5" x2="173.54999999999998" y2="165.5" stroke="#1a2430" stroke-width="1"/>
<text x="163.7" y="163.60000000000002" font-size="7.8" fill="#0a0f18" text-anchor="middle" textLength="8" lengthAdjust="spacingAndGlyphs" stroke="#0a0f18" stroke-width="0.25">TT</text>
<text x="163.7" y="172.8" font-size="7.8" fill="#0a0f18" text-anchor="middle" textLength="12.6" lengthAdjust="spacingAndGlyphs" stroke="#0a0f18" stroke-width="0.25">9291</text>
<circle cx="194.2" cy="165.3" r="9.85" fill="#bcdef5" stroke="#1a2430" stroke-width="1.1"/>
<line x1="184.35" y1="165.5" x2="204.04999999999998" y2="165.5" stroke="#1a2430" stroke-width="1"/>
<text x="194.2" y="163.60000000000002" font-size="7.8" fill="#0a0f18" text-anchor="middle" textLength="8" lengthAdjust="spacingAndGlyphs" stroke="#0a0f18" stroke-width="0.25">PT</text>
<text x="194.2" y="172.8" font-size="7.8" fill="#0a0f18" text-anchor="middle" textLength="12.6" lengthAdjust="spacingAndGlyphs" stroke="#0a0f18" stroke-width="0.25">9291</text>
<circle cx="249.1" cy="137.3" r="9.85" fill="#bcdef5" stroke="#1a2430" stroke-width="1.1"/>
<line x1="239.25" y1="137.5" x2="258.95" y2="137.5" stroke="#1a2430" stroke-width="1"/>
<text x="249.1" y="135.60000000000002" font-size="7.8" fill="#0a0f18" text-anchor="middle" textLength="12.8" lengthAdjust="spacingAndGlyphs" stroke="#0a0f18" stroke-width="0.25">PDT</text>
<text x="249.1" y="144.8" font-size="7.8" fill="#0a0f18" text-anchor="middle" textLength="12.6" lengthAdjust="spacingAndGlyphs" stroke="#0a0f18" stroke-width="0.25">9281</text>
<circle cx="139.8" cy="232" r="9.85" fill="#bcdef5" stroke="#1a2430" stroke-width="1.1"/>
<line x1="129.95000000000002" y1="232.2" x2="149.65" y2="232.2" stroke="#1a2430" stroke-width="1"/>
<text x="139.8" y="230.3" font-size="7.8" fill="#0a0f18" text-anchor="middle" textLength="12.8" lengthAdjust="spacingAndGlyphs" stroke="#0a0f18" stroke-width="0.25">PDT</text>
<text x="139.8" y="239.5" font-size="7.8" fill="#0a0f18" text-anchor="middle" textLength="12.6" lengthAdjust="spacingAndGlyphs" stroke="#0a0f18" stroke-width="0.25">9291</text>
<circle cx="337.2" cy="92.8" r="9.85" fill="#bcdef5" stroke="#1a2430" stroke-width="1.1"/>
<line x1="327.34999999999997" y1="93.0" x2="347.05" y2="93.0" stroke="#1a2430" stroke-width="1"/>
<text x="337.2" y="91.1" font-size="7.8" fill="#0a0f18" text-anchor="middle" textLength="12.8" lengthAdjust="spacingAndGlyphs" stroke="#0a0f18" stroke-width="0.25">PDT</text>
<text x="337.2" y="100.3" font-size="7.8" fill="#0a0f18" text-anchor="middle" textLength="12.6" lengthAdjust="spacingAndGlyphs" stroke="#0a0f18" stroke-width="0.25">9241</text>
<circle cx="485.8" cy="137.2" r="9.85" fill="#bcdef5" stroke="#1a2430" stroke-width="1.1"/>
<line x1="475.95" y1="137.39999999999998" x2="495.65000000000003" y2="137.39999999999998" stroke="#1a2430" stroke-width="1"/>
<text x="485.8" y="135.5" font-size="7.8" fill="#0a0f18" text-anchor="middle" textLength="12.8" lengthAdjust="spacingAndGlyphs" stroke="#0a0f18" stroke-width="0.25">PDT</text>
<text x="485.8" y="144.7" font-size="7.8" fill="#0a0f18" text-anchor="middle" textLength="16" lengthAdjust="spacingAndGlyphs" stroke="#0a0f18" stroke-width="0.25">9251A</text>
<circle cx="485.6" cy="220.2" r="9.85" fill="#bcdef5" stroke="#1a2430" stroke-width="1.1"/>
<line x1="475.75" y1="220.39999999999998" x2="495.45000000000005" y2="220.39999999999998" stroke="#1a2430" stroke-width="1"/>
<text x="485.6" y="218.5" font-size="7.8" fill="#0a0f18" text-anchor="middle" textLength="12.8" lengthAdjust="spacingAndGlyphs" stroke="#0a0f18" stroke-width="0.25">PDT</text>
<text x="485.6" y="227.7" font-size="7.8" fill="#0a0f18" text-anchor="middle" textLength="16" lengthAdjust="spacingAndGlyphs" stroke="#0a0f18" stroke-width="0.25">9251B</text>
<circle cx="551" cy="179" r="9.85" fill="#bcdef5" stroke="#1a2430" stroke-width="1.1"/>
<line x1="541.15" y1="179.2" x2="560.85" y2="179.2" stroke="#1a2430" stroke-width="1"/>
<text x="551" y="177.3" font-size="7.8" fill="#0a0f18" text-anchor="middle" textLength="12.8" lengthAdjust="spacingAndGlyphs" stroke="#0a0f18" stroke-width="0.25">PDT</text>
<text x="551" y="186.5" font-size="7.8" fill="#0a0f18" text-anchor="middle" textLength="16" lengthAdjust="spacingAndGlyphs" stroke="#0a0f18" stroke-width="0.25">9251C</text>
<circle cx="568.2" cy="247.3" r="9.85" fill="#bcdef5" stroke="#1a2430" stroke-width="1.1"/>
<line x1="558.35" y1="247.5" x2="578.0500000000001" y2="247.5" stroke="#1a2430" stroke-width="1"/>
<text x="568.2" y="245.60000000000002" font-size="7.8" fill="#0a0f18" text-anchor="middle" textLength="8" lengthAdjust="spacingAndGlyphs" stroke="#0a0f18" stroke-width="0.25">TT</text>
<text x="568.2" y="254.8" font-size="7.8" fill="#0a0f18" text-anchor="middle" textLength="12.6" lengthAdjust="spacingAndGlyphs" stroke="#0a0f18" stroke-width="0.25">9251</text>
<circle cx="174.5" cy="310.8" r="9.85" fill="#bcdef5" stroke="#1a2430" stroke-width="1.1"/>
<line x1="164.65" y1="311.0" x2="184.35" y2="311.0" stroke="#1a2430" stroke-width="1"/>
<text x="174.5" y="309.1" font-size="7.8" fill="#0a0f18" text-anchor="middle" textLength="8" lengthAdjust="spacingAndGlyphs" stroke="#0a0f18" stroke-width="0.25">PT</text>
<text x="174.5" y="318.3" font-size="7.8" fill="#0a0f18" text-anchor="middle" textLength="16" lengthAdjust="spacingAndGlyphs" stroke="#0a0f18" stroke-width="0.25">9261A</text>
<circle cx="174.5" cy="335.2" r="9.85" fill="#bcdef5" stroke="#1a2430" stroke-width="1.1"/>
<line x1="164.65" y1="335.4" x2="184.35" y2="335.4" stroke="#1a2430" stroke-width="1"/>
<text x="174.5" y="333.5" font-size="7.8" fill="#0a0f18" text-anchor="middle" textLength="8" lengthAdjust="spacingAndGlyphs" stroke="#0a0f18" stroke-width="0.25">TT</text>
<text x="174.5" y="342.7" font-size="7.8" fill="#0a0f18" text-anchor="middle" textLength="16" lengthAdjust="spacingAndGlyphs" stroke="#0a0f18" stroke-width="0.25">9261A</text>
<circle cx="175" cy="356.8" r="9.85" fill="#bcdef5" stroke="#1a2430" stroke-width="1.1"/>
<line x1="165.15" y1="357.0" x2="184.85" y2="357.0" stroke="#1a2430" stroke-width="1"/>
<text x="175" y="355.1" font-size="7.8" fill="#0a0f18" text-anchor="middle" textLength="8" lengthAdjust="spacingAndGlyphs" stroke="#0a0f18" stroke-width="0.25">FT</text>
<text x="175" y="364.3" font-size="7.8" fill="#0a0f18" text-anchor="middle" textLength="16" lengthAdjust="spacingAndGlyphs" stroke="#0a0f18" stroke-width="0.25">9261A</text>
<circle cx="250.5" cy="309.2" r="9.85" fill="#bcdef5" stroke="#1a2430" stroke-width="1.1"/>
<line x1="240.65" y1="309.4" x2="260.35" y2="309.4" stroke="#1a2430" stroke-width="1"/>
<text x="250.5" y="307.5" font-size="7.8" fill="#0a0f18" text-anchor="middle" textLength="8" lengthAdjust="spacingAndGlyphs" stroke="#0a0f18" stroke-width="0.25">PT</text>
<text x="250.5" y="316.7" font-size="7.8" fill="#0a0f18" text-anchor="middle" textLength="16" lengthAdjust="spacingAndGlyphs" stroke="#0a0f18" stroke-width="0.25">9261B</text>
<circle cx="252.3" cy="332.8" r="9.85" fill="#bcdef5" stroke="#1a2430" stroke-width="1.1"/>
<line x1="242.45000000000002" y1="333.0" x2="262.15000000000003" y2="333.0" stroke="#1a2430" stroke-width="1"/>
<text x="252.3" y="331.1" font-size="7.8" fill="#0a0f18" text-anchor="middle" textLength="8" lengthAdjust="spacingAndGlyphs" stroke="#0a0f18" stroke-width="0.25">TT</text>
<text x="252.3" y="340.3" font-size="7.8" fill="#0a0f18" text-anchor="middle" textLength="16" lengthAdjust="spacingAndGlyphs" stroke="#0a0f18" stroke-width="0.25">9261B</text>
<circle cx="249.7" cy="356.2" r="9.85" fill="#bcdef5" stroke="#1a2430" stroke-width="1.1"/>
<line x1="239.85" y1="356.4" x2="259.55" y2="356.4" stroke="#1a2430" stroke-width="1"/>
<text x="249.7" y="354.5" font-size="7.8" fill="#0a0f18" text-anchor="middle" textLength="8" lengthAdjust="spacingAndGlyphs" stroke="#0a0f18" stroke-width="0.25">FT</text>
<text x="249.7" y="363.7" font-size="7.8" fill="#0a0f18" text-anchor="middle" textLength="16" lengthAdjust="spacingAndGlyphs" stroke="#0a0f18" stroke-width="0.25">9261B</text>
<circle cx="331.2" cy="328.9" r="9.85" fill="#bcdef5" stroke="#1a2430" stroke-width="1.1"/>
<line x1="321.34999999999997" y1="329.09999999999997" x2="341.05" y2="329.09999999999997" stroke="#1a2430" stroke-width="1"/>
<text x="331.2" y="327.2" font-size="7.8" fill="#0a0f18" text-anchor="middle" textLength="8" lengthAdjust="spacingAndGlyphs" stroke="#0a0f18" stroke-width="0.25">TT</text>
<text x="331.2" y="336.4" font-size="7.8" fill="#0a0f18" text-anchor="middle" textLength="12.6" lengthAdjust="spacingAndGlyphs" stroke="#0a0f18" stroke-width="0.25">9261</text>
<circle cx="367.4" cy="329.3" r="9.85" fill="#bcdef5" stroke="#1a2430" stroke-width="1.1"/>
<line x1="357.54999999999995" y1="329.5" x2="377.25" y2="329.5" stroke="#1a2430" stroke-width="1"/>
<text x="367.4" y="327.6" font-size="7.8" fill="#0a0f18" text-anchor="middle" textLength="8" lengthAdjust="spacingAndGlyphs" stroke="#0a0f18" stroke-width="0.25">PT</text>
<text x="367.4" y="336.8" font-size="7.8" fill="#0a0f18" text-anchor="middle" textLength="12.6" lengthAdjust="spacingAndGlyphs" stroke="#0a0f18" stroke-width="0.25">9261</text>
<circle cx="403" cy="329.1" r="9.85" fill="#bcdef5" stroke="#1a2430" stroke-width="1.1"/>
<line x1="393.15" y1="329.3" x2="412.85" y2="329.3" stroke="#1a2430" stroke-width="1"/>
<text x="403" y="327.40000000000003" font-size="7.8" fill="#0a0f18" text-anchor="middle" textLength="8" lengthAdjust="spacingAndGlyphs" stroke="#0a0f18" stroke-width="0.25">MT</text>
<text x="403" y="336.6" font-size="7.8" fill="#0a0f18" text-anchor="middle" textLength="12.6" lengthAdjust="spacingAndGlyphs" stroke="#0a0f18" stroke-width="0.25">9261</text>
<circle cx="320.8" cy="372.6" r="9.85" fill="#bcdef5" stroke="#1a2430" stroke-width="1.1"/>
<line x1="310.95" y1="372.8" x2="330.65000000000003" y2="372.8" stroke="#1a2430" stroke-width="1"/>
<text x="320.8" y="370.90000000000003" font-size="7.8" fill="#0a0f18" text-anchor="middle" textLength="12.8" lengthAdjust="spacingAndGlyphs" stroke="#0a0f18" stroke-width="0.25">CO2</text>
<text x="320.8" y="380.1" font-size="7.8" fill="#0a0f18" text-anchor="middle" textLength="16" lengthAdjust="spacingAndGlyphs" stroke="#0a0f18" stroke-width="0.25">9261C</text>
<circle cx="357.6" cy="372.6" r="9.85" fill="#bcdef5" stroke="#1a2430" stroke-width="1.1"/>
<line x1="347.75" y1="372.8" x2="367.45000000000005" y2="372.8" stroke="#1a2430" stroke-width="1"/>
<text x="357.6" y="370.90000000000003" font-size="7.8" fill="#0a0f18" text-anchor="middle" textLength="8" lengthAdjust="spacingAndGlyphs" stroke="#0a0f18" stroke-width="0.25">O2</text>
<text x="357.6" y="380.1" font-size="7.8" fill="#0a0f18" text-anchor="middle" textLength="16" lengthAdjust="spacingAndGlyphs" stroke="#0a0f18" stroke-width="0.25">9261B</text>
<circle cx="394" cy="372.6" r="9.85" fill="#bcdef5" stroke="#1a2430" stroke-width="1.1"/>
<line x1="384.15" y1="372.8" x2="403.85" y2="372.8" stroke="#1a2430" stroke-width="1"/>
<text x="394" y="370.90000000000003" font-size="7.8" fill="#0a0f18" text-anchor="middle" textLength="12.8" lengthAdjust="spacingAndGlyphs" stroke="#0a0f18" stroke-width="0.25">CH4</text>
<text x="394" y="380.1" font-size="7.8" fill="#0a0f18" text-anchor="middle" textLength="16" lengthAdjust="spacingAndGlyphs" stroke="#0a0f18" stroke-width="0.25">9261A</text>
<rect x="197" y="62.5" width="23.5" height="12" fill="#0f5752"/>
<rect x="198" y="63.5" width="21.5" height="10" fill="#16837f"/>
<text x="208.75" y="71.2" font-size="7.5" fill="#7e2c1a" font-weight="bold" text-anchor="middle" textLength="14.8" lengthAdjust="spacingAndGlyphs" stroke="#7e2c1a" stroke-width="0.35" opacity="0.88">0.02</text>
<text x="222.5" y="72" font-size="8.5" fill="#0b172c" textLength="12.3" lengthAdjust="spacingAndGlyphs" stroke="#0b172c" stroke-width="0.32">KPa</text>
<rect x="236" y="62.5" width="20" height="12" fill="#0f5752"/>
<rect x="237" y="63.5" width="18" height="10" fill="#16837f"/>
<text x="246.0" y="71.2" font-size="7.5" fill="#7e2c1a" font-weight="bold" text-anchor="middle" textLength="11.100000000000001" lengthAdjust="spacingAndGlyphs" stroke="#7e2c1a" stroke-width="0.35" opacity="0.88">2.3</text>
<text x="258" y="72" font-size="8.5" fill="#0b172c" textLength="12.3" lengthAdjust="spacingAndGlyphs" stroke="#0b172c" stroke-width="0.32">KPa</text>
<rect x="274" y="62.5" width="20.5" height="12" fill="#0f5752"/>
<rect x="275" y="63.5" width="18.5" height="10" fill="#16837f"/>
<text x="284.25" y="71.2" font-size="7.5" fill="#7e2c1a" font-weight="bold" text-anchor="middle" textLength="12.5" lengthAdjust="spacingAndGlyphs" stroke="#7e2c1a" stroke-width="0.35" opacity="0.88">12.8</text>
<circle cx="297.3" cy="67.0" r="1.0" fill="none" stroke="#0b172c" stroke-width="0.8"/>
<text x="298.4" y="72" font-size="8.5" fill="#0b172c" textLength="5.4" lengthAdjust="spacingAndGlyphs" stroke="#0b172c" stroke-width="0.32">C</text>
<rect x="121.8" y="141.1" width="20.5" height="11.5" fill="#0f5752"/>
<rect x="122.8" y="142.1" width="18.5" height="9.5" fill="#16837f"/>
<text x="132.05" y="149.54999999999998" font-size="7.5" fill="#7e2c1a" font-weight="bold" text-anchor="middle" textLength="12.5" lengthAdjust="spacingAndGlyphs" stroke="#7e2c1a" stroke-width="0.35" opacity="0.88">91.4</text>
<text x="143.4" y="149.6" font-size="8.5" fill="#0b172c" textLength="6.3" lengthAdjust="spacingAndGlyphs" stroke="#0b172c" stroke-width="0.32">%</text>
<rect x="152" y="141.1" width="20.3" height="11.5" fill="#0f5752"/>
<rect x="153" y="142.1" width="18.3" height="9.5" fill="#16837f"/>
<text x="162.15" y="149.54999999999998" font-size="7.5" fill="#7e2c1a" font-weight="bold" text-anchor="middle" textLength="12.3" lengthAdjust="spacingAndGlyphs" stroke="#7e2c1a" stroke-width="0.35" opacity="0.88">37.5</text>
<circle cx="175.0" cy="144.8" r="1.0" fill="none" stroke="#0b172c" stroke-width="0.8"/>
<text x="176.1" y="149.8" font-size="8.5" fill="#0b172c" textLength="5.4" lengthAdjust="spacingAndGlyphs" stroke="#0b172c" stroke-width="0.32">C</text>
<rect x="184.1" y="141.1" width="20.2" height="11.5" fill="#0f5752"/>
<rect x="185.1" y="142.1" width="18.2" height="9.5" fill="#16837f"/>
<text x="194.2" y="149.54999999999998" font-size="7.5" fill="#7e2c1a" font-weight="bold" text-anchor="middle" textLength="12.2" lengthAdjust="spacingAndGlyphs" stroke="#7e2c1a" stroke-width="0.35" opacity="0.88">112.7</text>
<text x="206" y="149.8" font-size="8.5" fill="#0b172c" textLength="12.3" lengthAdjust="spacingAndGlyphs" stroke="#0b172c" stroke-width="0.32">KPa</text>
<rect x="263.3" y="121.2" width="26.4" height="11" fill="#0f5752"/>
<rect x="264.3" y="122.2" width="24.4" height="9" fill="#16837f"/>
<text x="276.5" y="129.4" font-size="7.5" fill="#7e2c1a" font-weight="bold" text-anchor="middle" textLength="14.8" lengthAdjust="spacingAndGlyphs" stroke="#7e2c1a" stroke-width="0.35" opacity="0.88">0.03</text>
<text x="291" y="129.8" font-size="8.5" fill="#0b172c" textLength="12.3" lengthAdjust="spacingAndGlyphs" stroke="#0b172c" stroke-width="0.32">KPa</text>
<rect x="150.3" y="228.3" width="20.4" height="11.7" fill="#0f5752"/>
<rect x="151.3" y="229.3" width="18.4" height="9.7" fill="#16837f"/>
<text x="160.5" y="236.85" font-size="7.5" fill="#7e2c1a" font-weight="bold" text-anchor="middle" textLength="12.399999999999999" lengthAdjust="spacingAndGlyphs" stroke="#7e2c1a" stroke-width="0.35" opacity="0.88">0.01</text>
<text x="173" y="236.5" font-size="8.5" fill="#0b172c" textLength="12.3" lengthAdjust="spacingAndGlyphs" stroke="#0b172c" stroke-width="0.32">KPa</text>
<rect x="324" y="68.3" width="26" height="11.4" fill="#0f5752"/>
<rect x="325" y="69.3" width="24" height="9.4" fill="#16837f"/>
<text x="337.0" y="76.7" font-size="7.5" fill="#7e2c1a" font-weight="bold" text-anchor="middle" textLength="14.8" lengthAdjust="spacingAndGlyphs" stroke="#7e2c1a" stroke-width="0.35" opacity="0.88">0.00</text>
<text x="352" y="76.3" font-size="8.5" fill="#0b172c" textLength="12.3" lengthAdjust="spacingAndGlyphs" stroke="#0b172c" stroke-width="0.32">KPa</text>
<rect x="473.3" y="112" width="26.5" height="11" fill="#0f5752"/>
<rect x="474.3" y="113" width="24.5" height="9" fill="#16837f"/>
<text x="486.55" y="120.2" font-size="7.5" fill="#7e2c1a" font-weight="bold" text-anchor="middle" textLength="14.8" lengthAdjust="spacingAndGlyphs" stroke="#7e2c1a" stroke-width="0.35" opacity="0.88">0.01</text>
<text x="501.5" y="120.5" font-size="8.5" fill="#0b172c" textLength="12.3" lengthAdjust="spacingAndGlyphs" stroke="#0b172c" stroke-width="0.32">KPa</text>
<rect x="472.7" y="194.6" width="26.4" height="11.4" fill="#0f5752"/>
<rect x="473.7" y="195.6" width="24.4" height="9.4" fill="#16837f"/>
<text x="485.9" y="202.99999999999997" font-size="7.5" fill="#7e2c1a" font-weight="bold" text-anchor="middle" textLength="14.8" lengthAdjust="spacingAndGlyphs" stroke="#7e2c1a" stroke-width="0.35" opacity="0.88">0.01</text>
<text x="501" y="202.8" font-size="8.5" fill="#0b172c" textLength="12.3" lengthAdjust="spacingAndGlyphs" stroke="#0b172c" stroke-width="0.32">KPa</text>
<rect x="539.7" y="151.8" width="22.6" height="11.3" fill="#0f5752"/>
<rect x="540.7" y="152.8" width="20.6" height="9.3" fill="#16837f"/>
<text x="551.0" y="160.15" font-size="7.5" fill="#7e2c1a" font-weight="bold" text-anchor="middle" textLength="14.600000000000001" lengthAdjust="spacingAndGlyphs" stroke="#7e2c1a" stroke-width="0.35" opacity="0.88">0.05</text>
<text x="565" y="161" font-size="8.5" fill="#0b172c" textLength="12.3" lengthAdjust="spacingAndGlyphs" stroke="#0b172c" stroke-width="0.32">KPa</text>
<rect x="557" y="222.5" width="20.5" height="11.5" fill="#0f5752"/>
<rect x="558" y="223.5" width="18.5" height="9.5" fill="#16837f"/>
<text x="567.25" y="230.95" font-size="7.5" fill="#7e2c1a" font-weight="bold" text-anchor="middle" textLength="12.5" lengthAdjust="spacingAndGlyphs" stroke="#7e2c1a" stroke-width="0.35" opacity="0.88">40.1</text>
<circle cx="580.3" cy="227.0" r="1.0" fill="none" stroke="#0b172c" stroke-width="0.8"/>
<text x="581.4" y="232" font-size="8.5" fill="#0b172c" textLength="5.4" lengthAdjust="spacingAndGlyphs" stroke="#0b172c" stroke-width="0.32">C</text>
<rect x="185.8" y="305" width="20.3" height="11.6" fill="#0f5752"/>
<rect x="186.8" y="306" width="18.3" height="9.6" fill="#16837f"/>
<text x="195.95000000000002" y="313.5" font-size="7.5" fill="#7e2c1a" font-weight="bold" text-anchor="middle" textLength="12.3" lengthAdjust="spacingAndGlyphs" stroke="#7e2c1a" stroke-width="0.35" opacity="0.88">113.1</text>
<text x="208" y="313.8" font-size="8.5" fill="#0b172c" textLength="12.3" lengthAdjust="spacingAndGlyphs" stroke="#0b172c" stroke-width="0.32">KPa</text>
<rect x="185.7" y="328.4" width="20.3" height="11.6" fill="#0f5752"/>
<rect x="186.7" y="329.4" width="18.3" height="9.6" fill="#16837f"/>
<text x="195.85" y="336.9" font-size="7.5" fill="#7e2c1a" font-weight="bold" text-anchor="middle" textLength="12.3" lengthAdjust="spacingAndGlyphs" stroke="#7e2c1a" stroke-width="0.35" opacity="0.88">49.2</text>
<circle cx="209.10000000000002" cy="332.0" r="1.0" fill="none" stroke="#0b172c" stroke-width="0.8"/>
<text x="210.20000000000002" y="337" font-size="8.5" fill="#0b172c" textLength="5.4" lengthAdjust="spacingAndGlyphs" stroke="#0b172c" stroke-width="0.32">C</text>
<rect x="186" y="344.7" width="19.7" height="12.3" fill="#0f5752"/>
<rect x="187" y="345.7" width="17.7" height="10.3" fill="#16837f"/>
<text x="195.85" y="353.54999999999995" font-size="7.5" fill="#7e2c1a" font-weight="bold" text-anchor="middle" textLength="3.7" lengthAdjust="spacingAndGlyphs" stroke="#7e2c1a" stroke-width="0.35" opacity="0.88">0</text>
<text x="207" y="353" font-size="8.5" fill="#0b172c" textLength="15" lengthAdjust="spacingAndGlyphs" stroke="#0b172c" stroke-width="0.32">m3/h</text>
<rect x="186" y="356.8" width="19.7" height="12" fill="#0f5752"/>
<rect x="187" y="357.8" width="17.7" height="10" fill="#16837f"/>
<text x="195.85" y="365.5" font-size="7.5" fill="#7e2c1a" font-weight="bold" text-anchor="middle" textLength="11.7" lengthAdjust="spacingAndGlyphs" stroke="#7e2c1a" stroke-width="0.35" opacity="0.88">0.02</text>
<text x="208" y="364.7" font-size="8.5" fill="#0b172c" textLength="12.3" lengthAdjust="spacingAndGlyphs" stroke="#0b172c" stroke-width="0.32">KPa</text>
<rect x="264" y="304" width="20.7" height="11.7" fill="#0f5752"/>
<rect x="265" y="305" width="18.7" height="9.7" fill="#16837f"/>
<text x="274.35" y="312.55" font-size="7.5" fill="#7e2c1a" font-weight="bold" text-anchor="middle" textLength="12.7" lengthAdjust="spacingAndGlyphs" stroke="#7e2c1a" stroke-width="0.35" opacity="0.88">113.1</text>
<text x="286.7" y="312.5" font-size="8.5" fill="#0b172c" textLength="12.3" lengthAdjust="spacingAndGlyphs" stroke="#0b172c" stroke-width="0.32">KPa</text>
<rect x="263.3" y="327" width="20.4" height="11.7" fill="#0f5752"/>
<rect x="264.3" y="328" width="18.4" height="9.7" fill="#16837f"/>
<text x="273.5" y="335.55" font-size="7.5" fill="#7e2c1a" font-weight="bold" text-anchor="middle" textLength="12.399999999999999" lengthAdjust="spacingAndGlyphs" stroke="#7e2c1a" stroke-width="0.35" opacity="0.88">48.5</text>
<circle cx="287.0" cy="331.0" r="1.0" fill="none" stroke="#0b172c" stroke-width="0.8"/>
<text x="288.09999999999997" y="336" font-size="8.5" fill="#0b172c" textLength="5.4" lengthAdjust="spacingAndGlyphs" stroke="#0b172c" stroke-width="0.32">C</text>
<rect x="263.3" y="343.3" width="20.4" height="12.2" fill="#0f5752"/>
<rect x="264.3" y="344.3" width="18.4" height="10.2" fill="#16837f"/>
<text x="273.5" y="352.1" font-size="7.5" fill="#7e2c1a" font-weight="bold" text-anchor="middle" textLength="3.7" lengthAdjust="spacingAndGlyphs" stroke="#7e2c1a" stroke-width="0.35" opacity="0.88">0</text>
<text x="285" y="352" font-size="8.5" fill="#0b172c" textLength="15" lengthAdjust="spacingAndGlyphs" stroke="#0b172c" stroke-width="0.32">m3/h</text>
<rect x="263.3" y="355.3" width="20.4" height="12" fill="#0f5752"/>
<rect x="264.3" y="356.3" width="18.4" height="10" fill="#16837f"/>
<text x="273.5" y="364.0" font-size="7.5" fill="#7e2c1a" font-weight="bold" text-anchor="middle" textLength="12.399999999999999" lengthAdjust="spacingAndGlyphs" stroke="#7e2c1a" stroke-width="0.35" opacity="0.88">0.01</text>
<text x="286" y="364" font-size="8.5" fill="#0b172c" textLength="12.3" lengthAdjust="spacingAndGlyphs" stroke="#0b172c" stroke-width="0.32">KPa</text>
<rect x="319.5" y="304.5" width="20" height="11.5" fill="#0f5752"/>
<rect x="320.5" y="305.5" width="18" height="9.5" fill="#16837f"/>
<text x="329.5" y="312.95" font-size="7.5" fill="#7e2c1a" font-weight="bold" text-anchor="middle" textLength="12" lengthAdjust="spacingAndGlyphs" stroke="#7e2c1a" stroke-width="0.35" opacity="0.88">53.8</text>
<circle cx="342.3" cy="308.5" r="1.0" fill="none" stroke="#0b172c" stroke-width="0.8"/>
<text x="343.4" y="313.5" font-size="8.5" fill="#0b172c" textLength="5.4" lengthAdjust="spacingAndGlyphs" stroke="#0b172c" stroke-width="0.32">C</text>
<rect x="352" y="304.5" width="21" height="11.5" fill="#0f5752"/>
<rect x="353" y="305.5" width="19" height="9.5" fill="#16837f"/>
<text x="362.5" y="312.95" font-size="7.5" fill="#7e2c1a" font-weight="bold" text-anchor="middle" textLength="13" lengthAdjust="spacingAndGlyphs" stroke="#7e2c1a" stroke-width="0.35" opacity="0.88">113.0</text>
<text x="374" y="313.5" font-size="8.5" fill="#0b172c" textLength="12.3" lengthAdjust="spacingAndGlyphs" stroke="#0b172c" stroke-width="0.32">KPa</text>
<rect x="391.5" y="304.5" width="19.5" height="11.5" fill="#0f5752"/>
<rect x="392.5" y="305.5" width="17.5" height="9.5" fill="#16837f"/>
<text x="401.25" y="312.95" font-size="7.5" fill="#7e2c1a" font-weight="bold" text-anchor="middle" textLength="11.5" lengthAdjust="spacingAndGlyphs" stroke="#7e2c1a" stroke-width="0.35" opacity="0.88">14.2</text>
<text x="412.5" y="313.5" font-size="8.5" fill="#0b172c" textLength="6.3" lengthAdjust="spacingAndGlyphs" stroke="#0b172c" stroke-width="0.32">%</text>
<rect x="311" y="384" width="20.4" height="11.6" fill="#0f5752"/>
<rect x="312" y="385" width="18.4" height="9.6" fill="#16837f"/>
<text x="321.2" y="392.5" font-size="7.5" fill="#7e2c1a" font-weight="bold" text-anchor="middle" textLength="12.399999999999999" lengthAdjust="spacingAndGlyphs" stroke="#7e2c1a" stroke-width="0.35" opacity="0.88">30.3</text>
<text x="333" y="393.3" font-size="8.5" fill="#0b172c" textLength="6.3" lengthAdjust="spacingAndGlyphs" stroke="#0b172c" stroke-width="0.32">%</text>
<rect x="348.2" y="384" width="20.4" height="11.6" fill="#0f5752"/>
<rect x="349.2" y="385" width="18.4" height="9.6" fill="#16837f"/>
<text x="358.4" y="392.5" font-size="7.5" fill="#7e2c1a" font-weight="bold" text-anchor="middle" textLength="11.100000000000001" lengthAdjust="spacingAndGlyphs" stroke="#7e2c1a" stroke-width="0.35" opacity="0.88">5.0</text>
<text x="370.2" y="393.3" font-size="8.5" fill="#0b172c" textLength="6.3" lengthAdjust="spacingAndGlyphs" stroke="#0b172c" stroke-width="0.32">%</text>
<rect x="384.5" y="384" width="20.2" height="11.6" fill="#0f5752"/>
<rect x="385.5" y="385" width="18.2" height="9.6" fill="#16837f"/>
<text x="394.6" y="392.5" font-size="7.5" fill="#7e2c1a" font-weight="bold" text-anchor="middle" textLength="12.2" lengthAdjust="spacingAndGlyphs" stroke="#7e2c1a" stroke-width="0.35" opacity="0.88">38.7</text>
<text x="406.3" y="393.3" font-size="8.5" fill="#0b172c" textLength="6.3" lengthAdjust="spacingAndGlyphs" stroke="#0b172c" stroke-width="0.32">%</text>
<rect x="349.5" y="299.9" width="39.2" height="40.3" fill="none" stroke="#e4552e" stroke-width="2"/>
<rect x="302.3" y="272.3" width="140.9" height="23.4" fill="#e24e2a"/>
<rect x="304.2" y="274.2" width="137.1" height="19.6" fill="#c8dcde"/>
<rect x="304.9" y="274.9" width="135.7" height="18.2" fill="#12807c"/>
<text x="308.5" y="287.6" font-size="11" fill="#0c3a4e" textLength="70" lengthAdjust="spacingAndGlyphs" stroke="#0c3a4e" stroke-width="0.15">Outlet Pressure SP</text>
<rect x="385.5" y="278" width="30" height="12" fill="#2a2a2a"/><rect x="386.5" y="279" width="28" height="10" fill="#a4a4a4"/>
<text x="400.5" y="288" font-size="10" fill="#0a0a0a" font-weight="bold" text-anchor="middle" textLength="24" lengthAdjust="spacingAndGlyphs">113.0</text>
<text x="419" y="287.6" font-size="11" fill="#0c3a4e" textLength="16" lengthAdjust="spacingAndGlyphs" stroke="#0c3a4e" stroke-width="0.15">KPa</text>
<text x="259" y="174" font-size="8" fill="#0b172c" textLength="28.5" lengthAdjust="spacingAndGlyphs" stroke="#0b172c" stroke-width="0.32">FZ-9270A</text>
<rect x="259" y="174.9" width="28.5" height="1" fill="#0b172c"/>
<text x="259" y="211" font-size="8" fill="#0b172c" textLength="28.5" lengthAdjust="spacingAndGlyphs" stroke="#0b172c" stroke-width="0.32">FZ-9270B</text>
<rect x="259" y="211.9" width="28.5" height="1" fill="#0b172c"/>
<text x="259.5" y="249.4" font-size="8" fill="#0b172c" textLength="28" lengthAdjust="spacingAndGlyphs" stroke="#0b172c" stroke-width="0.32">FZ-9270C</text>
<rect x="259.5" y="250.3" width="28" height="1" fill="#0b172c"/>
<text x="229" y="265" font-size="8.5" fill="#0b172c" textLength="31" lengthAdjust="spacingAndGlyphs" stroke="#0b172c" stroke-width="0.32">Fine filter</text>
<text x="130" y="205.2" font-size="8" fill="#0b172c" textLength="22" lengthAdjust="spacingAndGlyphs" stroke="#0b172c" stroke-width="0.32">6#POV</text>
<rect x="130" y="206.1" width="22" height="1" fill="#0b172c"/>
<text x="92" y="248.3" font-size="8" fill="#0b172c" textLength="18.3" lengthAdjust="spacingAndGlyphs" stroke="#0b172c" stroke-width="0.32">3#FLA</text>
<rect x="92" y="249.20000000000002" width="18.3" height="1" fill="#0b172c"/>
<text x="325.4" y="115.5" font-size="8" fill="#0b172c" textLength="28" lengthAdjust="spacingAndGlyphs" stroke="#0b172c" stroke-width="0.32">FZ-9230A</text>
<rect x="325.4" y="116.4" width="28" height="1" fill="#0b172c"/>
<text x="325.4" y="167.6" font-size="8" fill="#0b172c" textLength="28" lengthAdjust="spacingAndGlyphs" stroke="#0b172c" stroke-width="0.32">FZ-9230B</text>
<rect x="325.4" y="168.5" width="28" height="1" fill="#0b172c"/>
<text x="325.4" y="221" font-size="8" fill="#0b172c" textLength="28" lengthAdjust="spacingAndGlyphs" stroke="#0b172c" stroke-width="0.32">FZ-9230C</text>
<rect x="325.4" y="221.9" width="28" height="1" fill="#0b172c"/>
<text x="324" y="268.5" font-size="8.5" fill="#0b172c" textLength="28.5" lengthAdjust="spacingAndGlyphs" stroke="#0b172c" stroke-width="0.32">Pre-filter</text>
<text x="391" y="69" font-size="8" fill="#0b172c" textLength="32" lengthAdjust="spacingAndGlyphs" stroke="#0b172c" stroke-width="0.32">WP-9310A</text>
<rect x="391" y="69.9" width="32" height="1" fill="#0b172c"/>
<text x="392" y="104.8" font-size="8" fill="#0b172c" textLength="32" lengthAdjust="spacingAndGlyphs" stroke="#0b172c" stroke-width="0.32">WP-9310B</text>
<rect x="392" y="105.7" width="32" height="1" fill="#0b172c"/>
<text x="438" y="69" font-size="8" fill="#0b172c" textLength="27" lengthAdjust="spacingAndGlyphs" stroke="#0b172c" stroke-width="0.32">WT-9330</text>
<rect x="438" y="69.9" width="27" height="1" fill="#0b172c"/>
<text x="483.5" y="69" font-size="8" fill="#0b172c" textLength="20.5" lengthAdjust="spacingAndGlyphs" stroke="#0b172c" stroke-width="0.32">C-9320</text>
<rect x="483.5" y="69.9" width="20.5" height="1" fill="#0b172c"/>
<text x="445.2" y="104.8" font-size="8.5" fill="#0b172c" textLength="15.3" lengthAdjust="spacingAndGlyphs" stroke="#0b172c" stroke-width="0.32">Tank</text>
<text x="483.5" y="104.5" font-size="8.5" fill="#0b172c" textLength="21" lengthAdjust="spacingAndGlyphs" stroke="#0b172c" stroke-width="0.32">Chiller</text>
<text x="400" y="138.5" font-size="8.5" fill="#0b172c" textLength="20" lengthAdjust="spacingAndGlyphs" stroke="#0b172c" stroke-width="0.32">Pump</text>
<text x="402" y="152.5" font-size="8" fill="#0b172c" textLength="24.5" lengthAdjust="spacingAndGlyphs" stroke="#0b172c" stroke-width="0.32">E-9240A</text>
<rect x="402" y="153.4" width="24.5" height="1" fill="#0b172c"/>
<text x="400.7" y="198.8" font-size="8" fill="#0b172c" textLength="25" lengthAdjust="spacingAndGlyphs" stroke="#0b172c" stroke-width="0.32">E-9240B</text>
<rect x="400.7" y="199.70000000000002" width="25" height="1" fill="#0b172c"/>
<text x="382.3" y="245.7" font-size="8.5" fill="#0b172c" textLength="54.5" lengthAdjust="spacingAndGlyphs" stroke="#0b172c" stroke-width="0.32">Heat-exchanger</text>
<text x="497.7" y="173.3" font-size="8" fill="#0b172c" textLength="24.3" lengthAdjust="spacingAndGlyphs" stroke="#0b172c" stroke-width="0.32">V-9250A</text>
<rect x="497.7" y="174.20000000000002" width="24.3" height="1" fill="#0b172c"/>
<text x="497.5" y="255.8" font-size="8" fill="#0b172c" textLength="24.3" lengthAdjust="spacingAndGlyphs" stroke="#0b172c" stroke-width="0.32">V-9250B</text>
<rect x="497.5" y="256.7" width="24.3" height="1" fill="#0b172c"/>
<text x="456" y="277.5" font-size="8.5" fill="#0b172c" textLength="66" lengthAdjust="spacingAndGlyphs" stroke="#0b172c" stroke-width="0.32">Moisture Separator</text>
<text x="541.5" y="215.5" font-size="8.5" fill="#0b172c" textLength="20" lengthAdjust="spacingAndGlyphs" stroke="#0b172c" stroke-width="0.32">2#FLA</text>
<text x="426" y="306.7" font-size="8" fill="#0b172c" textLength="31.7" lengthAdjust="spacingAndGlyphs" stroke="#0b172c" stroke-width="0.32">RM-9260C</text>
<rect x="426" y="307.59999999999997" width="31.7" height="1" fill="#0b172c"/>
<text x="470.3" y="306.7" font-size="8" fill="#0b172c" textLength="22" lengthAdjust="spacingAndGlyphs" stroke="#0b172c" stroke-width="0.32">2#POV</text>
<rect x="470.3" y="307.59999999999997" width="22" height="1" fill="#0b172c"/>
<text x="499" y="306.7" font-size="8" fill="#0b172c" textLength="31.7" lengthAdjust="spacingAndGlyphs" stroke="#0b172c" stroke-width="0.32">RM-9260B</text>
<rect x="499" y="307.59999999999997" width="31.7" height="1" fill="#0b172c"/>
<text x="535.2" y="306.7" font-size="8" fill="#0b172c" textLength="31.5" lengthAdjust="spacingAndGlyphs" stroke="#0b172c" stroke-width="0.32">RM-9260A</text>
<rect x="535.2" y="307.59999999999997" width="31.5" height="1" fill="#0b172c"/>
<text x="439.7" y="403.7" font-size="8" fill="#0b172c" textLength="31" lengthAdjust="spacingAndGlyphs" stroke="#0b172c" stroke-width="0.32">RM-9260F</text>
<rect x="439.7" y="404.59999999999997" width="31" height="1" fill="#0b172c"/>
<text x="483.3" y="403.7" font-size="8" fill="#0b172c" textLength="21.7" lengthAdjust="spacingAndGlyphs" stroke="#0b172c" stroke-width="0.32">3#POV</text>
<rect x="483.3" y="404.59999999999997" width="21.7" height="1" fill="#0b172c"/>
<text x="515" y="403.7" font-size="8" fill="#0b172c" textLength="31.5" lengthAdjust="spacingAndGlyphs" stroke="#0b172c" stroke-width="0.32">RM-9260E</text>
<rect x="515" y="404.59999999999997" width="31.5" height="1" fill="#0b172c"/>
<text x="552" y="403.7" font-size="8" fill="#0b172c" textLength="31.5" lengthAdjust="spacingAndGlyphs" stroke="#0b172c" stroke-width="0.32">RM-9260D</text>
<rect x="552" y="404.59999999999997" width="31.5" height="1" fill="#0b172c"/>
<text x="460.7" y="416.5" font-size="8.5" fill="#0b172c" textLength="65.5" lengthAdjust="spacingAndGlyphs" stroke="#0b172c" stroke-width="0.32">Main Roots Blower</text>
<rect x="93.2" y="405" width="100.3" height="22.5" fill="#4a4c4c"/>
<rect x="94.10000000000001" y="405.9" width="98.2" height="20.4" fill="#fdfdfd"/>
<rect x="95.4" y="407.2" width="96.89999999999999" height="19.1" fill="#848686"/>
<rect x="95.4" y="407.2" width="95.7" height="17.9" fill="#d3d1d1"/>
<text x="143.35" y="420.4" font-size="11" fill="#111" text-anchor="middle" textLength="91.6" lengthAdjust="spacingAndGlyphs" stroke="#111" stroke-width="0.15">Blower Operate Interface</text>
</svg></body></html>
